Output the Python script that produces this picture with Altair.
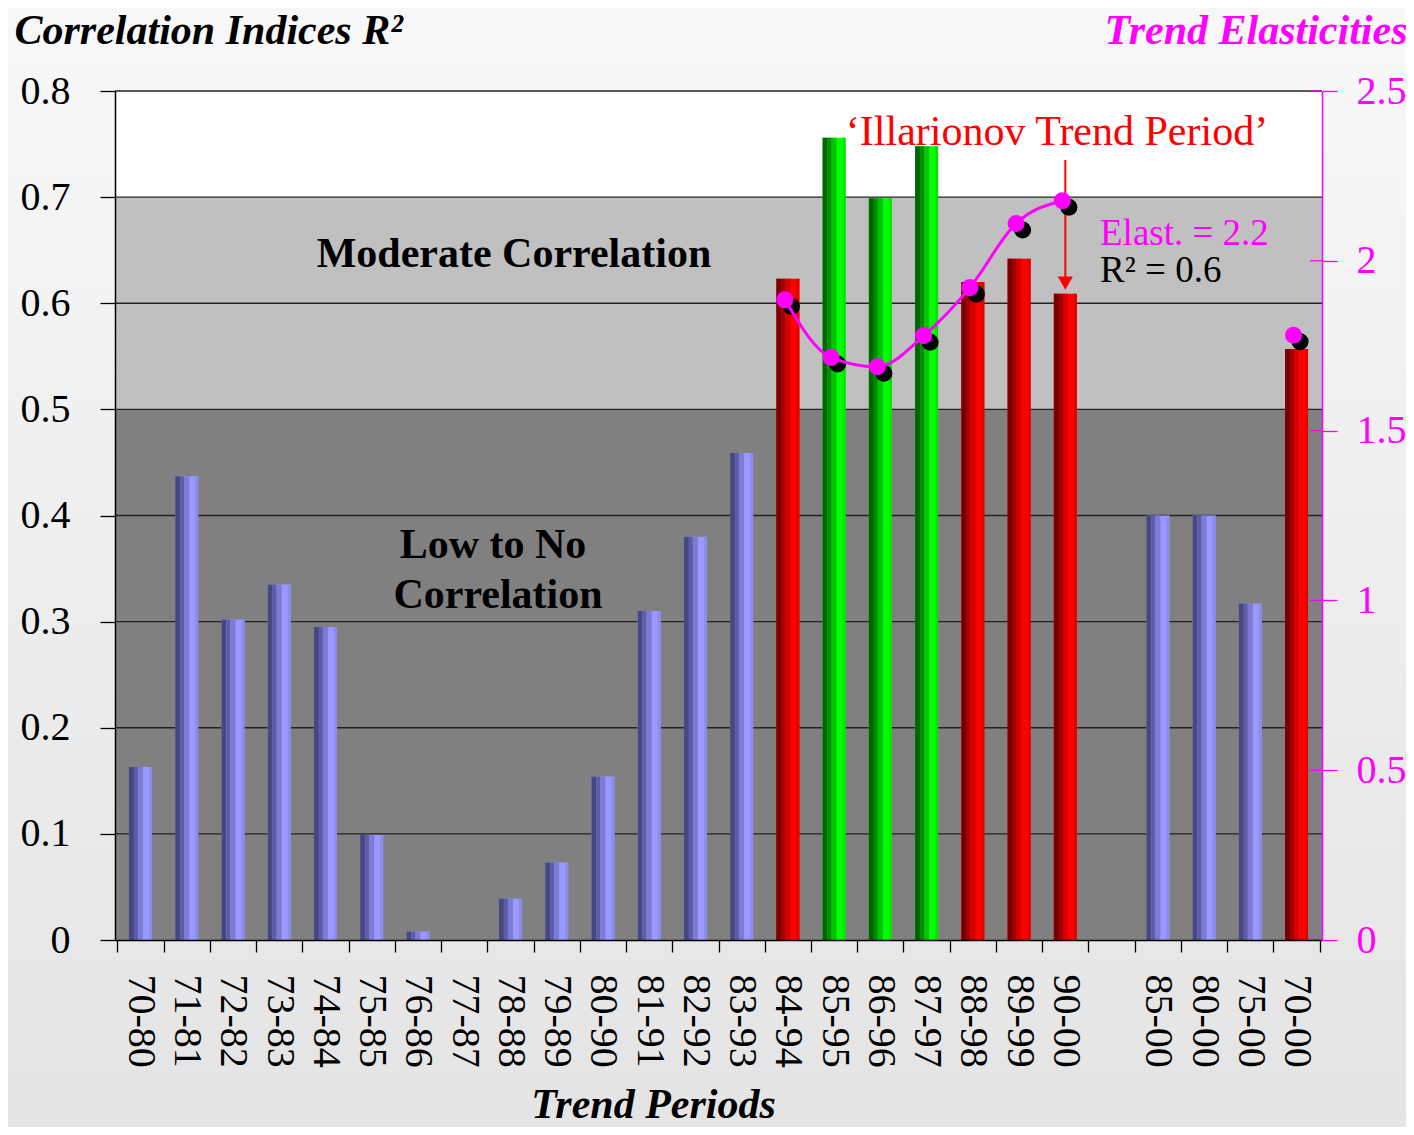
import altair as alt
import pandas as pd

# ---------------- data ----------------
periods = ["70-80", "71-81", "72-82", "73-83", "74-84", "75-85", "76-86", "77-87",
           "78-88", "79-89", "80-90", "81-91", "82-92", "83-93", "84-94", "85-95",
           "86-96", "87-97", "88-98", "89-99", "90-00", " ", "85-00", "80-00",
           "75-00", "70-00"]
r2_values = [0.163, 0.437, 0.302, 0.335, 0.295, 0.099, 0.008, 0.0,
             0.039, 0.073, 0.154, 0.310, 0.380, 0.459, 0.623, 0.756,
             0.699, 0.748, 0.620, 0.642, 0.609, None, 0.400, 0.400,
             0.317, 0.557]
bar_groups = ["blue"] * 14 + ["red", "green", "green", "green", "red", "red", "red",
                              None, "blue", "blue", "blue", "red"]

elast_periods = ["84-94", "85-95", "86-96", "87-97", "88-98", "89-99", "90-00"]
elast_values = [1.885, 1.715, 1.688, 1.779, 1.921, 2.110, 2.177]
single_period = ["70-00"]
single_value = [1.781]

band_low = [0.0, 0.5, 0.7]
band_high = [0.5, 0.7, 0.8]
band_colors = ["#808080", "#c0c0c0", "#ffffff"]
grid_values = [0.1, 0.2, 0.3, 0.4, 0.5, 0.6, 0.7, 0.8]
left_ticks = [0, 0.1, 0.2, 0.3, 0.4, 0.5, 0.6, 0.7, 0.8]
right_ticks = [0, 0.5, 1, 1.5, 2, 2.5]

group_names = ["blue", "red", "green"]
# shading stripes for the cylinder look: (x offset from centre, width, colours per group)
stripes = [
    (0.0, 23, ["#9999ff", "#ff0000", "#00ff00"]),
    (-9.0, 5, ["#484880", "#780000", "#006400"]),
    (-4.5, 4, ["#5c5ca8", "#a00000", "#008c00"]),
    (0.0, 5, ["#7c7cd4", "#d40000", "#00c400"]),
    (10.0, 3, ["#8c8cee", "#e60000", "#00e400"]),
]

# ---------------- layout ----------------
W, H = 1207, 849
PAD = {"left": 107, "top": 83, "right": 84, "bottom": 187}
FONT = "Liberation Serif"
MAG = "#ff00ff"

bars_df = pd.DataFrame({"period": periods, "r2": r2_values, "group": bar_groups}).dropna()
bands_df = pd.DataFrame({"lo": band_low, "hi": band_high, "c": band_colors})
grid_df = pd.DataFrame({"g": grid_values})
line_df = pd.DataFrame({"period": elast_periods, "e": elast_values})
pts_df = pd.DataFrame({"period": elast_periods + single_period,
                       "e": elast_values + single_value})
rt_df = pd.DataFrame({"t": right_ticks})

yl = alt.Scale(domain=[0, 0.8], nice=False, zero=True)
yr = alt.Scale(domain=[0, 2.5], nice=False, zero=True)
xs = alt.Scale(domain=periods, paddingInner=0, paddingOuter=0.05)

x_axis = alt.Axis(
    title="Trend Periods", labelAngle=90, labelAlign="left", labelBaseline="middle",
    labelFont=FONT, labelFontSize=40, labelColor="black", labelPadding=22,
    tickSize=12, tickBand="extent", tickColor="black", tickWidth=1.3,
    domainColor="black", domainWidth=1.5, grid=False, zindex=1,
    titleFont=FONT, titleFontSize=42, titleFontStyle="italic", titleFontWeight="bold",
    titleColor="black", titleX=538, titleY=177, titleAlign="center",
    titleBaseline="alphabetic", labelOverlap=False, labelFlush=False,
)
left_axis = alt.Axis(
    orient="left",
    values=left_ticks, format=".1~f", tickSize=15, tickColor="black", tickWidth=1.3,
    domainColor="black", domainWidth=1.5, grid=False, zindex=1,
    labelFont=FONT, labelFontSize=40, labelColor="black", labelPadding=30,
    labelFlush=False, labelOverlap=False,
    title="Correlation Indices R²", titleFont=FONT, titleFontSize=42,
    titleFontStyle="italic", titleFontWeight="bold", titleColor="black",
    titleAngle=0, titleAlign="left", titleBaseline="alphabetic",
    titleX=-101, titleY=-48,
)
right_axis = alt.Axis(
    orient="right", values=right_ticks, format=".1~f", tickSize=15, tickColor=MAG,
    tickWidth=1.3, domainColor=MAG, domainWidth=1.5, grid=False, zindex=1,
    labelFont=FONT, labelFontSize=40, labelColor=MAG, labelPadding=19,
    labelFlush=False, labelOverlap=False,
    title="Trend Elasticities", titleFont=FONT, titleFontSize=42,
    titleFontStyle="italic", titleFontWeight="bold", titleColor=MAG,
    titleAngle=0, titleAlign="right", titleBaseline="alphabetic",
    titleX=85, titleY=-48,
)

bg_g = alt.Gradient(gradient="linear", x1=0, x2=0, y1=0, y2=1,
                    stops=[alt.GradientStop(color="#f8f8f8", offset=0),
                           alt.GradientStop(color="#eeeeee", offset=0.5),
                           alt.GradientStop(color="#e4e4e4", offset=1)])


def XP(with_axis=False):
    if with_axis:
        return alt.X("period:N", scale=xs, sort=periods, axis=x_axis)
    return alt.X("period:N", scale=xs, sort=periods)


def YL(field, with_axis=False):
    if with_axis:
        return alt.Y(field, scale=yl, axis=left_axis)
    return alt.Y(field, scale=yl)


def YR(field, with_axis=False):
    if with_axis:
        return alt.Y(field, scale=yr, axis=right_axis)
    return alt.Y(field, scale=yr)


# ---------------- left (R²) group ----------------
background = alt.Chart(pd.DataFrame({"k": [0]})).mark_rect(fill=bg_g).encode(
    x=alt.value(-PAD["left"]), x2=alt.value(W + PAD["right"]),
    y=alt.value(-PAD["top"]), y2=alt.value(H + PAD["bottom"]),
)

bands = alt.Chart(bands_df).mark_rect().encode(
    x=alt.value(0), x2=alt.value(W),
    y=YL("lo:Q", True),
    y2="hi:Q",
    fill=alt.Fill("c:N", scale=None),
)

grid = alt.Chart(grid_df).mark_rule(color="#222222", strokeWidth=1.3).encode(
    x=alt.value(0), x2=alt.value(W),
    y=YL("g:Q"),
)

bar_layers = []
for i, (off, w, cols) in enumerate(stripes):
    bar_layers.append(
        alt.Chart(bars_df).mark_bar(size=w, xOffset=off).encode(
            x=XP(i == 0),
            y=YL("r2:Q"),
            fill=alt.Fill("group:N", scale=alt.Scale(domain=group_names, range=cols),
                          legend=None),
        )
    )
bars = alt.layer(*bar_layers).resolve_scale(fill="independent")

arrow_df = pd.DataFrame({"period": ["90-00"], "y1": [0.735], "y2": [0.624], "tip": [0.619]})
arrow_line = alt.Chart(arrow_df).mark_rule(color="red", strokeWidth=2).encode(
    x=XP(), y=YL("y1:Q"), y2="y2:Q",
)
arrow_head = alt.Chart(arrow_df).mark_point(
    shape="triangle-down", filled=True, color="red", size=230, opacity=1
).encode(
    x=XP(), y=YL("tip:Q"),
)


def label(text, xpix, yval, size=42, color="black", weight="normal", align="center"):
    return alt.Chart(pd.DataFrame({"t": [text], "y": [yval]})).mark_text(
        font=FONT, fontSize=size, fontWeight=weight, color=color,
        align=align, baseline="alphabetic",
    ).encode(
        x=alt.value(xpix), y=YL("y:Q"), text="t:N",
    )


texts = alt.layer(
    label("Moderate Correlation", 399, 0.634, weight="bold"),
    label("Low to No", 378, 0.360, weight="bold"),
    label("Correlation", 383, 0.313, weight="bold"),
    label("\u2018Illarionov Trend Period\u2019", 942, 0.749, color="red"),
    label("Elast. = 2.2", 985, 0.655, size=37, color=MAG, align="left"),
    label("R\u00b2 = 0.6", 985, 0.620, size=37, color="black", align="left"),
)

left = alt.layer(background, bands, grid, bars, arrow_line, arrow_head, texts)

# ---------------- right (elasticity) group ----------------
rticks = alt.Chart(rt_df).mark_rule(color=MAG, strokeWidth=1.3).encode(
    x=alt.value(W - 12), x2=alt.value(W),
    y=YR("t:Q", True),
)
shadow = alt.Chart(pts_df).mark_circle(
    color="black", size=290, opacity=1, xOffset=3.5, yOffset=6.5
).encode(x=XP(), y=YR("e:Q"))
eline = alt.Chart(line_df).mark_line(
    color=MAG, strokeWidth=3, interpolate="monotone", xOffset=-3
).encode(x=XP(), y=YR("e:Q"))
epts = alt.Chart(pts_df).mark_circle(
    color=MAG, size=290, opacity=1, xOffset=-3
).encode(x=XP(), y=YR("e:Q"))

right = alt.layer(rticks, shadow, eline, epts)

chart = alt.layer(left, right).resolve_scale(y="independent").properties(
    width=W, height=H,
    autosize=alt.AutoSizeParams(type="none"),
    padding=PAD,
    background="#f2f2f2",
).configure(font=FONT).configure_view(stroke=None).configure_axis(
    labelFont=FONT, titleFont=FONT
).configure_text(font=FONT)

chart.save("out.html", embed_options={"renderer": "svg", "actions": False})
